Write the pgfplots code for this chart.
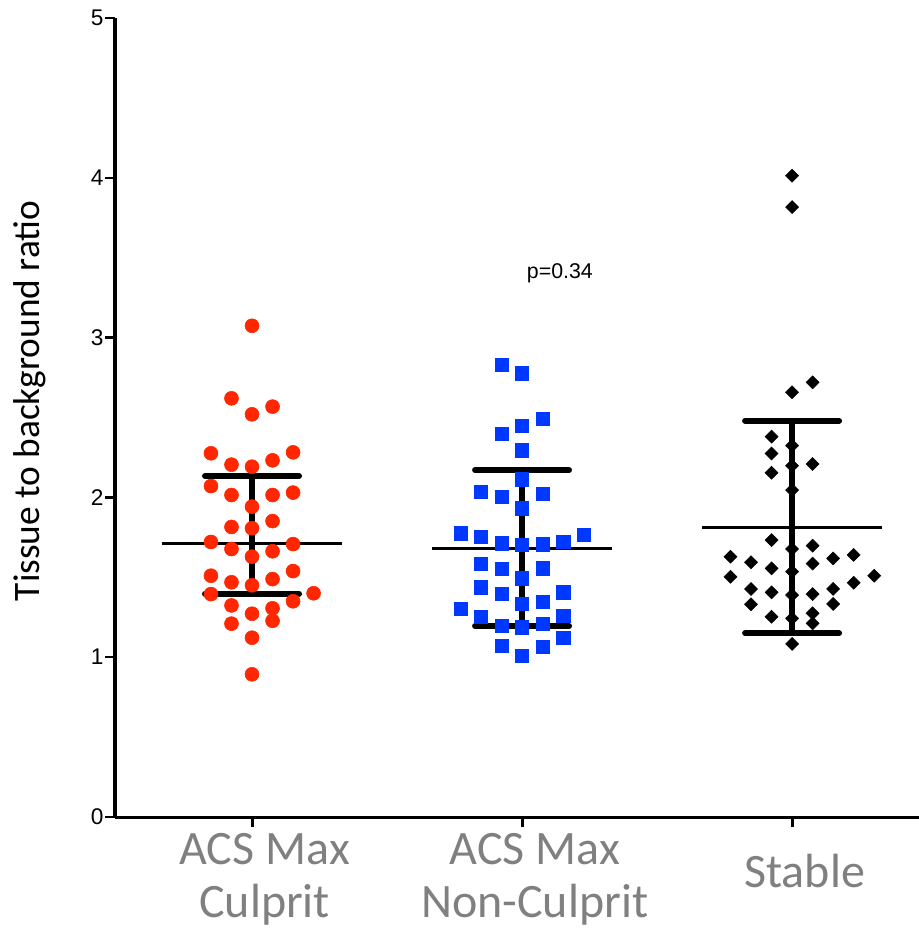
\documentclass[border=0pt]{standalone}
\usepackage{fontspec}
\setmainfont{Liberation Sans}
\newfontfamily\carlito{Carlito}
\usepackage{pgfplots}
\pgfplotsset{compat=1.18}
\definecolor{dotred}{RGB}{255,38,0}
\definecolor{sqblue}{RGB}{0,56,255}
\definecolor{labgray}{RGB}{128,128,128}

\begin{document}
\begin{tikzpicture}[x=1pt,y=1pt]
\path[use as bounding box] (-86.25,-84.75) rectangle (603,612.75);
\begin{axis}[
  scale only axis, width=603pt, height=599.25pt,
  xmin=0.4926, xmax=3.47, ymin=0, ymax=5,
  clip=false,
  axis lines=left, axis line style={-},
  y axis line style={line width=3.6pt},
  x axis line style={line width=2.25pt},
  tick align=outside, major tick length=7.5pt,
  ytick={0,1,2,3,4,5},
  yticklabels={0,1,2,3,4,5},
  ytick style={line width=1.8pt, black},
  xtick={1,2,3},
  xtick style={line width=2.25pt, black},
  xticklabels={{ACS Max\\Culprit},{ACS Max\\Non-Culprit},{\raisebox{12pt}{Stable}}},
  xticklabel style={align=center, font=\carlito\fontsize{36}{40}\selectfont, text=labgray, anchor=center, yshift=-39pt, xshift=9.5pt},
  yticklabel style={font=\fontsize{17}{20}\selectfont, inner sep=1pt},
  ylabel={Tissue to background ratio},
  ylabel style={font=\carlito\fontsize{28}{32}\selectfont, at={(axis description cs:-0.1057,0.5207)}, anchor=center},
]
% error bars (SD)
\addplot[black, line width=4.5pt] coordinates {(1,1.398) (1,2.134)};
\addplot[black, line width=4.5pt, line cap=round] coordinates {(0.826,2.134) (1.174,2.134)};
\addplot[black, line width=4.5pt, line cap=round] coordinates {(0.826,1.398) (1.174,1.398)};
\addplot[black, line width=4.5pt] coordinates {(2,1.195) (2,2.171)};
\addplot[black, line width=4.5pt, line cap=round] coordinates {(1.826,2.171) (2.174,2.171)};
\addplot[black, line width=4.5pt, line cap=round] coordinates {(1.826,1.195) (2.174,1.195)};
\addplot[black, line width=4.5pt] coordinates {(3,1.150) (3,2.480)};
\addplot[black, line width=4.5pt, line cap=round] coordinates {(2.826,2.480) (3.174,2.480)};
\addplot[black, line width=4.5pt, line cap=round] coordinates {(2.826,1.150) (3.174,1.150)};

% ACS Max Culprit
\addplot[only marks, mark=*, mark size=5.25pt, color=dotred, mark options={draw=none, fill=dotred}] coordinates {
(1,3.074) (1,2.520) (1,2.192) (1,1.942) (1,1.807) (1,1.629) (1,1.450) (1,1.272) (1,1.122) (1,0.893)
(0.924,2.620) (0.924,2.205) (0.924,2.015) (0.924,1.815) (0.924,1.677) (0.924,1.469) (0.924,1.324) (0.924,1.210)
(1.076,2.568) (1.076,2.232) (1.076,2.015) (1.076,1.852) (1.076,1.663) (1.076,1.489) (1.076,1.306) (1.076,1.228)
(0.848,2.276) (0.848,2.071) (0.848,1.721) (0.848,1.510) (0.848,1.395)
(1.152,2.282) (1.152,2.030) (1.152,1.708) (1.152,1.539) (1.152,1.350)
(1.228,1.400)
};

% ACS Max Non-Culprit
\addplot[only marks, mark=square*, mark size=5pt, color=sqblue, mark options={draw=none, fill=sqblue}] coordinates {
(2,2.776) (2,2.447) (2,2.295) (2,2.113) (2,1.931) (2,1.702) (2,1.493) (2,1.333) (2,1.187) (2,1.009)
(1.924,2.829) (1.924,2.399) (1.924,2.003) (1.924,1.712) (1.924,1.552) (1.924,1.398) (1.924,1.197) (1.924,1.070)
(2.076,2.493) (2.076,2.021) (2.076,1.706) (2.076,1.556) (2.076,1.347) (2.076,1.208) (2.076,1.066)
(1.848,2.037) (1.848,1.754) (1.848,1.583) (1.848,1.437) (1.848,1.254)
(2.152,1.723) (2.152,1.406) (2.152,1.260) (2.152,1.122)
(1.772,1.775) (1.772,1.302)
(2.228,1.765)
};

% Stable
\addplot[only marks, mark=square*, mark size=3.45pt, color=black, mark options={draw=none, fill=black, rotate=45}] coordinates {
(3,4.013) (3,3.817) (3,2.658) (3,2.324) (3,2.198) (3,2.046) (3,1.677) (3,1.535) (3,1.389) (3,1.243) (3,1.083)
(2.924,2.380) (2.924,2.275) (2.924,2.154) (2.924,1.733) (2.924,1.556) (2.924,1.406) (2.924,1.253)
(3.076,2.720) (3.076,2.209) (3.076,1.698) (3.076,1.586) (3.076,1.395) (3.076,1.275) (3.076,1.212)
(2.848,1.594) (2.848,1.427) (2.848,1.331)
(3.152,1.618) (3.152,1.427) (3.152,1.333)
(2.772,1.629) (2.772,1.503)
(3.228,1.640) (3.228,1.466)
(3.304,1.510)
};

% means
\addplot[black, line width=2pt] coordinates {(0.667,1.712) (1.333,1.712)};
\addplot[black, line width=2pt] coordinates {(1.667,1.681) (2.333,1.681)};
\addplot[black, line width=2pt] coordinates {(2.667,1.813) (3.333,1.813)};

\node[font=\fontsize{16}{19}\selectfont] at (axis cs:2.14,3.40) {p=0.34};
\end{axis}
\end{tikzpicture}
\end{document}
